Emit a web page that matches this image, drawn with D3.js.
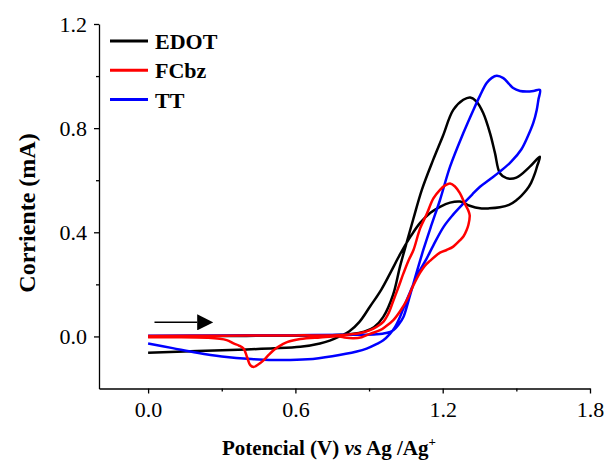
<!DOCTYPE html>
<html>
<head>
<meta charset="utf-8">
<script src="https://cdn.jsdelivr.net/npm/d3@7"></script>
<style>
  body { margin: 0; background: #fff; }
  svg { display: block; font-family: "Liberation Serif", "Times New Roman", serif; }
</style>
</head>
<body>
<svg id="chart" width="604" height="460"></svg>
<script>
// values (potential in V, current in mA)
const edotV = [0, 0.2, 0.4, 0.6, 0.75, 0.83, 0.88, 0.92, 0.958, 0.998, 1.026, 1.05, 1.08, 1.115, 1.161, 1.2, 1.243, 1.284, 1.312, 1.338, 1.365, 1.393, 1.413, 1.433, 1.46, 1.5, 1.555, 1.596,
  1.585, 1.576, 1.56, 1.542, 1.52, 1.501, 1.47, 1.433, 1.39, 1.352, 1.31, 1.271, 1.23, 1.189, 1.15, 1.108, 1.07, 1.026, 0.99, 0.95, 0.904, 0.86, 0.82, 0.78, 0.74, 0.7, 0.62, 0.5, 0.4, 0.2, 0]
const edotI = [0, 0.001, 0.002, 0.003, 0.005, 0.009, 0.018, 0.035, 0.075, 0.16, 0.268, 0.35, 0.45, 0.563, 0.678, 0.768, 0.87, 0.909, 0.918, 0.902, 0.858, 0.78, 0.704, 0.627, 0.608, 0.61, 0.652, 0.69,
  0.655, 0.627, 0.59, 0.563, 0.54, 0.524, 0.505, 0.496, 0.492, 0.492, 0.502, 0.518, 0.514, 0.498, 0.475, 0.436, 0.385, 0.315, 0.25, 0.18, 0.115, 0.055, 0.02, 0, -0.016, -0.027, -0.04, -0.046, -0.05, -0.056, -0.063]

const fcbzV = [0, 0.3, 0.6, 0.78, 0.836, 0.87, 0.904, 0.93, 0.958, 0.98, 1.0, 1.02, 1.04, 1.06, 1.081, 1.108, 1.135, 1.162, 1.189, 1.21, 1.23, 1.25, 1.27, 1.29, 1.305, 1.31,
  1.305, 1.298, 1.285, 1.271, 1.243, 1.216, 1.189, 1.148, 1.128, 1.108, 1.08, 1.054, 1.025, 0.999, 0.97, 0.945, 0.904, 0.87, 0.836, 0.8, 0.78, 0.7, 0.62, 0.566, 0.53, 0.511, 0.49, 0.47, 0.457, 0.44, 0.43, 0.416, 0.403, 0.389, 0.37, 0.348, 0.32, 0.24, 0.1, 0]
const fcbzI = [0.002, 0.003, 0.004, 0.005, 0.009, 0.014, 0.024, 0.036, 0.056, 0.09, 0.14, 0.19, 0.242, 0.29, 0.332, 0.415, 0.47, 0.53, 0.563, 0.58, 0.587, 0.576, 0.55, 0.51, 0.482, 0.465,
  0.43, 0.41, 0.385, 0.37, 0.345, 0.332, 0.322, 0.29, 0.272, 0.245, 0.195, 0.14, 0.095, 0.063, 0.04, 0.024, 0.01, -0.003, -0.007, -0.004, 0, -0.004, -0.01, -0.022, -0.04, -0.053, -0.072, -0.092, -0.102, -0.113, -0.117, -0.11, -0.079, -0.047, -0.035, -0.027, -0.014, -0.005, -0.003, -0.003]

const ttV = [0, 0.3, 0.6, 0.85, 0.93, 0.97, 0.999, 1.02, 1.04, 1.06, 1.081, 1.121, 1.155, 1.189, 1.23, 1.284, 1.325, 1.352, 1.379, 1.4, 1.42, 1.447, 1.47, 1.487, 1.515, 1.542, 1.57, 1.596,
  1.59, 1.583, 1.569, 1.545, 1.52, 1.48, 1.433, 1.39, 1.352, 1.32, 1.284, 1.24, 1.203, 1.162, 1.135, 1.108, 1.085, 1.067, 1.045, 1.026, 1.005, 0.985, 0.958, 0.93, 0.89, 0.85, 0.75, 0.65, 0.55, 0.42, 0.3, 0.2, 0.1, 0]
const ttI = [0.003, 0.004, 0.005, 0.006, 0.008, 0.013, 0.024, 0.045, 0.075, 0.135, 0.204, 0.332, 0.43, 0.524, 0.652, 0.781, 0.87, 0.925, 0.973, 0.993, 1.001, 0.992, 0.97, 0.954, 0.943, 0.941, 0.943, 0.947,
  0.91, 0.87, 0.82, 0.765, 0.718, 0.672, 0.633, 0.602, 0.575, 0.545, 0.51, 0.465, 0.42, 0.35, 0.3, 0.255, 0.21, 0.17, 0.12, 0.075, 0.035, 0.01, -0.015, -0.03, -0.047, -0.058, -0.076, -0.088, -0.091, -0.087, -0.077, -0.063, -0.045, -0.027]

const seriesNames = ['EDOT', 'FCbz', 'TT']
const seriesColors = ['#000000', '#ff0000', '#0000ff']
const xTicks = [0, 0.6, 1.2, 1.8]
const xMinor = [0.3, 0.9, 1.5]
const yTicks = [0, 0.4, 0.8, 1.2]
const yMinor = [0.2, 0.6, 1.0]

const series = [
  { name: 'EDOT', V: edotV, I: edotI },
  { name: 'FCbz', V: fcbzV, I: fcbzI },
  { name: 'TT', V: ttV, I: ttI }
]

const svg = d3.select('#chart')
const x = d3.scaleLinear().domain([-0.2, 1.8]).range([99, 590])
const y = d3.scaleLinear().domain([-0.2, 1.2]).range([388.5, 24])
const color = d3.scaleOrdinal().domain(seriesNames).range(seriesColors)

// axes
const xAxis = svg.append('g').attr('transform', `translate(0,${y(-0.2)})`)
  .call(d3.axisBottom(x).tickValues(xTicks).tickSize(5).tickSizeOuter(0).tickPadding(8).tickFormat(d3.format('.1f')))
svg.append('g').attr('transform', `translate(0,${y(-0.2)})`)
  .call(d3.axisBottom(x).tickValues(xMinor).tickSize(3).tickSizeOuter(0).tickFormat(''))
  .select('.domain').remove()
const yAxis = svg.append('g').attr('transform', `translate(${x(-0.2)},0)`)
  .call(d3.axisLeft(y).tickValues(yTicks).tickSize(5).tickSizeOuter(0).tickPadding(7).tickFormat(d3.format('.1f')))
svg.append('g').attr('transform', `translate(${x(-0.2)},0)`)
  .call(d3.axisLeft(y).tickValues(yMinor).tickSize(3).tickSizeOuter(0).tickFormat(''))
  .select('.domain').remove()

svg.selectAll('.domain, .tick line').attr('stroke', '#000').attr('stroke-width', 1.3)
svg.selectAll('.tick text').attr('font-family', '"Liberation Serif", serif').attr('font-size', 22).attr('fill', '#000')

// curves
const line = d3.line()
  .x(d => x(d[0]))
  .y(d => y(d[1]))
  .curve(d3.curveCatmullRom.alpha(0.5))

const drawOrder = ['EDOT', 'TT', 'FCbz']
drawOrder.forEach(name => {
  const s = series.find(d => d.name === name)
  svg.append('path')
    .datum(s.V.map((v, i) => [v, s.I[i]]))
    .attr('fill', 'none')
    .attr('stroke', color(name))
    .attr('stroke-width', 2.5)
    .attr('stroke-linejoin', 'round')
    .attr('d', line)
})

// scan direction arrow
svg.append('defs').append('marker')
  .attr('id', 'head').attr('viewBox', '0 0 10 10')
  .attr('refX', 0).attr('refY', 5)
  .attr('markerWidth', 10).attr('markerHeight', 10)
  .attr('markerUnits', 'userSpaceOnUse')
  .attr('orient', 'auto')
  .append('path').attr('d', 'M0,0L10,5L0,10Z').attr('fill', '#000')
svg.select('#head').attr('markerWidth', 16).attr('markerHeight', 16)
svg.append('line')
  .attr('x1', x(0.026)).attr('x2', x(0.2))
  .attr('y1', y(0.054)).attr('y2', y(0.054))
  .attr('stroke', '#000').attr('stroke-width', 1.5)
  .attr('marker-end', 'url(#head)')

// legend
const legend = svg.append('g')
seriesNames.forEach((name, i) => {
  const ly = 41 + i * 29.3
  legend.append('line')
    .attr('x1', 110).attr('x2', 148).attr('y1', ly).attr('y2', ly)
    .attr('stroke', color(name)).attr('stroke-width', 3)
  legend.append('text')
    .attr('x', 155).attr('y', ly + 8)
    .attr('font-size', 22).attr('font-weight', 'bold')
    .text(name)
})

// axis titles
svg.append('text')
  .attr('transform', 'translate(35,213) rotate(-90)')
  .attr('text-anchor', 'middle')
  .attr('font-size', 24).attr('font-weight', 'bold')
  .text('Corriente (mA)')

const xt = svg.append('text')
  .attr('x', 329).attr('y', 455)
  .attr('text-anchor', 'middle')
  .attr('font-size', 21).attr('font-weight', 'bold')
xt.append('tspan').text('Potencial (V) ')
xt.append('tspan').attr('font-style', 'italic').text('vs')
xt.append('tspan').text(' Ag /Ag')
xt.append('tspan').attr('font-size', 13).attr('dy', -9).text('+')
</script>
</body>
</html>
